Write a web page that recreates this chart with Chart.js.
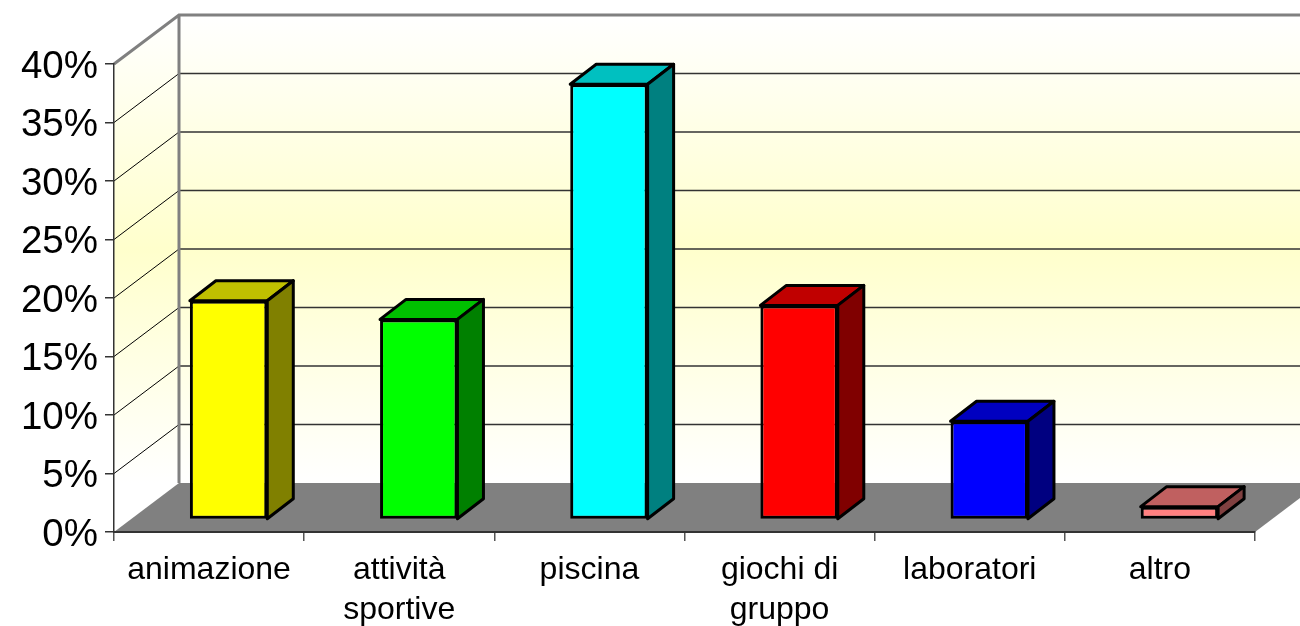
<!DOCTYPE html>
<html>
<head>
<meta charset="utf-8">
<style>
html, body { margin: 0; padding: 0; background: #fff; overflow: hidden; }
#wrap { width: 1300px; height: 626px; }
</style>
<script src="https://cdn.jsdelivr.net/npm/chart.js@4"></script>
</head>
<body>
<div id="wrap"><canvas id="chart3d"></canvas></div>
<script>
var categories = ['animazione', ['attività', 'sportive'], 'piscina', ['giochi di', 'gruppo'], 'laboratori', 'altro'];
var values = [18.7, 17.1, 37.2, 18.3, 8.4, 1.1];
var yTicks = [0, 5, 10, 15, 20, 25, 30, 35, 40];

var frontColors = ['#ffff00', '#00ff00', '#00ffff', '#ff0000', '#0000ff', '#ff8080'];
var topColors = ['#c0c000', '#00c000', '#00c0c0', '#c00000', '#0000c0', '#c06060'];
var sideColors = ['#808000', '#008000', '#008080', '#800000', '#000080', '#804040'];

// offset of the back wall from the front of the box
var wallDx = 65, wallDy = -49;
// offset of the bars inside the box, and the depth of a bar
var barDx = 19.5, barDy = -12.5;
var depthDx = 26, depthDy = -20;

function poly(ctx, pts, fill, stroke, lw) {
    ctx.beginPath();
    ctx.moveTo(pts[0][0], pts[0][1]);
    for (var i = 1; i < pts.length; i++) ctx.lineTo(pts[i][0], pts[i][1]);
    ctx.closePath();
    if (fill) { ctx.fillStyle = fill; ctx.fill(); }
    if (stroke) { ctx.strokeStyle = stroke; ctx.lineWidth = lw; ctx.lineJoin = 'round'; ctx.stroke(); }
}

var box3d = {
    id: 'box3d',
    beforeDraw: function (chart) {
        var ctx = chart.ctx, a = chart.chartArea, y = chart.scales.y;
        var y0 = y.getPixelForValue(0), yMax = y.getPixelForValue(40);
        var backL = a.left + wallDx, backR = a.right + wallDx;

        var grad = ctx.createLinearGradient(0, yMax + wallDy, 0, y0 + wallDy);
        grad.addColorStop(0, '#ffffff');
        grad.addColorStop(0.5, '#ffffcc');
        grad.addColorStop(1, '#ffffff');
        ctx.fillStyle = grad;
        ctx.fillRect(backL, yMax + wallDy, backR - backL, y0 - yMax);

        // left wall
        poly(ctx, [[a.left, yMax], [backL, yMax + wallDy], [backL, y0 + wallDy], [a.left, y0]], grad);

        // grid on both walls
        yTicks.forEach(function (t) {
            if (t === 0 || t === 40) return;
            var py = y.getPixelForValue(t);
            ctx.strokeStyle = '#000';
            ctx.lineWidth = 1;
            ctx.beginPath();
            ctx.moveTo(a.left, py);
            ctx.lineTo(backL, py + wallDy);
            ctx.stroke();
            ctx.strokeStyle = '#333';
            ctx.lineWidth = 1.5;
            ctx.beginPath();
            ctx.moveTo(backL, py + wallDy);
            ctx.lineTo(backR, py + wallDy);
            ctx.stroke();
        });

        // floor
        poly(ctx, [[a.left, y0], [a.right, y0], [backR, y0 + wallDy], [backL, y0 + wallDy]], '#808080');

        // grey outline of the walls
        ctx.strokeStyle = '#808080';
        ctx.lineWidth = 3;
        ctx.beginPath();
        ctx.moveTo(a.left, yMax);
        ctx.lineTo(backL, yMax + wallDy);
        ctx.lineTo(backR, yMax + wallDy);
        ctx.moveTo(backL, yMax + wallDy);
        ctx.lineTo(backL, y0 + wallDy);
        ctx.stroke();
    },
    beforeDatasetsDraw: function (chart) {
        chart.ctx.save();
        chart.ctx.translate(barDx, barDy);
    },
    afterDatasetsDraw: function (chart) {
        var ctx = chart.ctx;
        chart.getDatasetMeta(0).data.forEach(function (bar, i) {
            var l = bar.x - bar.width / 2, r = bar.x + bar.width / 2;
            var t = bar.y, b = bar.base;
            poly(ctx, [[l, t], [l + depthDx, t + depthDy], [r + depthDx, t + depthDy], [r, t]], topColors[i], '#000', 3);
            poly(ctx, [[r, t], [r + depthDx, t + depthDy], [r + depthDx, b + depthDy], [r, b]], sideColors[i], '#000', 3);
        });
        ctx.restore();
    }
};

new Chart(document.getElementById('chart3d'), {
    type: 'bar',
    data: {
        labels: categories,
        datasets: [{
            data: values,
            backgroundColor: frontColors,
            borderColor: '#000',
            borderWidth: 3,
            borderSkipped: false,
            barPercentage: 0.407,
            categoryPercentage: 1
        }]
    },
    options: {
        responsive: true,
        maintainAspectRatio: false,
        animation: false,
        layout: { padding: { left: 0, top: 64, right: 45, bottom: 0 } },
        plugins: { legend: { display: false }, tooltip: { enabled: false } },
        scales: {
            x: {
                afterFit: function (s) { s.height = 94; },
                border: { color: '#333', width: 2 },
                grid: { drawOnChartArea: false, color: '#555', tickLength: 9, lineWidth: 1.5 },
                ticks: {
                    color: '#000',
                    padding: 9,
                    maxRotation: 0,
                    autoSkip: false,
                    font: { family: '"Liberation Sans", Arial, sans-serif', size: 32, lineHeight: 1.26 }
                }
            },
            y: {
                min: 0,
                max: 40,
                afterFit: function (s) { s.width = 114; },
                border: { color: '#333', width: 1.5 },
                grid: { drawOnChartArea: false, color: '#333', tickLength: 9, lineWidth: 1.5 },
                afterBuildTicks: function (s) { s.ticks = yTicks.map(function (v) { return { value: v }; }); },
                ticks: {
                    color: '#000',
                    padding: 7,
                    labelOffset: 3,
                    callback: function (v) { return v + '%'; },
                    font: { family: '"Liberation Sans", Arial, sans-serif', size: 38.5 }
                }
            }
        }
    },
    plugins: [box3d]
});
</script>
</body>
</html>
